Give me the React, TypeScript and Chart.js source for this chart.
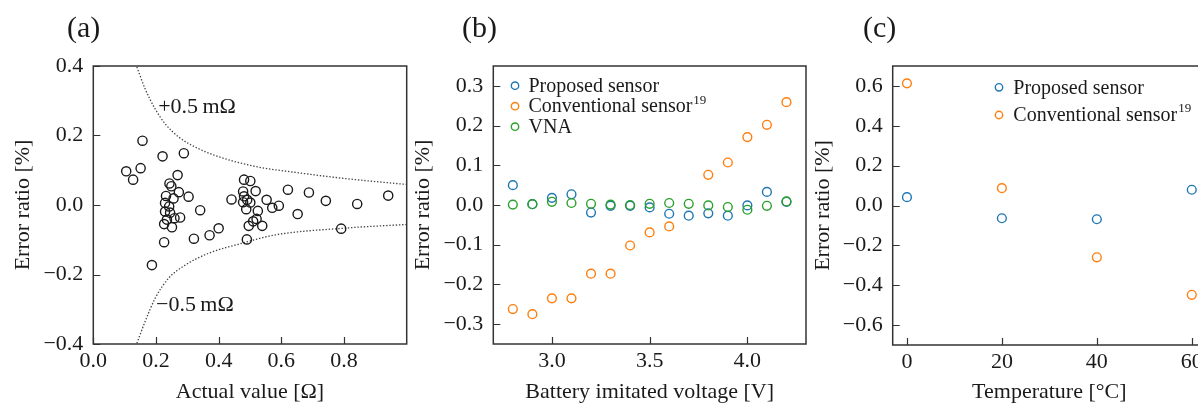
import React, { useEffect, useRef } from "react";
import { Chart, registerables } from "chart.js";
Chart.register(...registerables);

const FONT = '"Liberation Serif", "Times New Roman", serif';
const BLUE = "#1f77b4";
const ORANGE = "#ff7f0e";
const GREEN = "#2ca02c";
const INK = "#1a1a1a";
const FRAME = "#333333";

// ---------- (a) data ----------
const actualValues = [0.105, 0.127, 0.151, 0.157, 0.187, 0.221, 0.226, 0.289, 0.269, 0.304, 0.273, 0.243, 0.249, 0.232, 0.256, 0.229, 0.242, 0.229, 0.245, 0.235, 0.226, 0.251, 0.259, 0.277, 0.321, 0.341, 0.371, 0.4, 0.441, 0.481, 0.501, 0.478, 0.481, 0.478, 0.491, 0.501, 0.488, 0.518, 0.525, 0.521, 0.51, 0.496, 0.49, 0.539, 0.553, 0.571, 0.592, 0.621, 0.652, 0.688, 0.742, 0.791, 0.842, 0.941];
const errorRatioA = [0.097, 0.073, 0.106, 0.185, -0.173, 0.14, -0.107, 0.149, 0.086, 0.024, 0.037, 0.062, 0.054, 0.026, 0.019, 0.006, -0.004, -0.019, -0.022, -0.042, -0.055, -0.064, -0.038, -0.036, -0.097, -0.015, -0.087, -0.067, 0.016, 0.073, 0.069, 0.039, 0.025, 0.008, 0.015, 0.007, -0.012, 0.04, -0.017, -0.04, -0.047, -0.06, -0.099, -0.06, 0.015, -0.008, -0.002, 0.044, -0.026, 0.036, 0.012, -0.068, 0.003, 0.027];
const upperBoundX = [0.139, 0.165, 0.197, 0.229, 0.272, 0.336, 0.421, 0.528, 0.635, 0.795, 1.0];
const upperBoundY = [0.397, 0.335, 0.277, 0.234, 0.196, 0.162, 0.133, 0.109, 0.095, 0.077, 0.059];
const lowerBoundX = [0.139, 0.165, 0.197, 0.24, 0.293, 0.368, 0.475, 0.581, 0.795, 1.0];
const lowerBoundY = [-0.398, -0.336, -0.269, -0.211, -0.173, -0.139, -0.11, -0.086, -0.067, -0.056];
const ticksAX = [0, 0.2, 0.4, 0.6, 0.8];
const ticksAY = [-0.4, -0.2, 0, 0.2, 0.4];

// ---------- (b) data ----------
const voltages = [2.8, 2.9, 3.0, 3.1, 3.2, 3.3, 3.4, 3.5, 3.6, 3.7, 3.8, 3.9, 4.0, 4.1, 4.2];
const proposedB = [0.05, 0.002, 0.018, 0.027, -0.019, -0.002, -0.002, -0.006, -0.022, -0.027, -0.021, -0.027, -0.001, 0.033, 0.008];
const conventionalB = [-0.262, -0.275, -0.235, -0.235, -0.173, -0.173, -0.102, -0.069, -0.054, null, 0.076, 0.107, 0.171, 0.202, 0.259];
const vnaB = [0.001, 0.002, 0.008, 0.005, 0.003, 0.001, 0.0, 0.003, 0.005, 0.003, -0.001, -0.005, -0.012, -0.002, 0.009];
const ticksBX = [3.0, 3.5, 4.0];
const ticksBY = [-0.3, -0.2, -0.1, 0, 0.1, 0.2, 0.3];

// ---------- (c) data ----------
const temperatures = [0, 20, 40, 60];
const proposedC = [0.042, -0.064, -0.069, 0.079];
const conventionalC = [0.613, 0.087, -0.26, -0.448];
const ticksCX = [0, 20, 40, 60];
const ticksCY = [-0.6, -0.4, -0.2, 0, 0.2, 0.4, 0.6];

function pts(xs: number[], ys: (number | null)[]) {
  const out: { x: number; y: number }[] = [];
  xs.forEach((x, i) => {
    const y = ys[i];
    if (y !== null && y !== undefined) out.push({ x, y });
  });
  return out;
}

function fmt(v: number, d: number) {
  const s = Math.abs(v).toFixed(d);
  return v < -1e-9 ? "\u2212" + s : s;
}

type LegendItem = { color: string; label: string; sup?: string };
type PanelDeco = {
  letter: string;
  letterX: number;
  legend?: { markerX: number; textX: number; rows: number[]; items: LegendItem[] };
  notes?: { x: number; y: number; text: string }[];
};

function decoPlugin(deco: PanelDeco) {
  return {
    id: "deco",
    afterDraw(chart: any) {
      const { ctx, chartArea: a, scales } = chart;
      const sx = scales.x;
      const sy = scales.y;
      ctx.save();
      // inward ticks
      ctx.strokeStyle = FRAME;
      ctx.lineWidth = 1.2;
      ctx.beginPath();
      sx.ticks.forEach((t: any) => {
        const p = Math.round(sx.getPixelForValue(t.value)) + 0.5;
        ctx.moveTo(p, a.bottom);
        ctx.lineTo(p, a.bottom - 7);
      });
      sy.ticks.forEach((t: any) => {
        const p = Math.round(sy.getPixelForValue(t.value)) + 0.5;
        ctx.moveTo(a.left, p);
        ctx.lineTo(a.left + 7, p);
      });
      ctx.stroke();
      // frame
      ctx.lineWidth = 1.5;
      ctx.strokeRect(a.left, a.top, a.right - a.left, a.bottom - a.top);
      // panel letter
      ctx.fillStyle = INK;
      ctx.font = `30px ${FONT}`;
      ctx.textAlign = "left";
      ctx.textBaseline = "alphabetic";
      ctx.fillText(deco.letter, deco.letterX, 37);
      // notes
      if (deco.notes) {
        ctx.font = `22px ${FONT}`;
        deco.notes.forEach((n) => {
          ctx.fillText(n.text, sx.getPixelForValue(n.x), sy.getPixelForValue(n.y));
        });
      }
      // legend
      if (deco.legend) {
        const L = deco.legend;
        L.items.forEach((it, i) => {
          const y = L.rows[i];
          ctx.beginPath();
          ctx.strokeStyle = it.color;
          ctx.lineWidth = 1.4;
          ctx.arc(L.markerX, y, 3.7, 0, Math.PI * 2);
          ctx.stroke();
          ctx.fillStyle = INK;
          ctx.font = `20px ${FONT}`;
          ctx.textBaseline = "middle";
          ctx.fillText(it.label, L.textX, y + 1);
          if (it.sup) {
            const w = ctx.measureText(it.label).width;
            ctx.font = `13px ${FONT}`;
            ctx.fillText(it.sup, L.textX + w + 1, y - 6);
          }
        });
      }
      ctx.restore();
    },
  };
}

function axes(opts: {
  xMin: number; xMax: number; yMin: number; yMax: number;
  xTicks: number[]; yTicks: number[]; xDec: number; yDec: number;
  xTitle: string; yTitle: string; yWidth: number; xHeight: number;
}) {
  const tickFont = { family: FONT, size: 22, lineHeight: 1 };
  const titleFont = { family: FONT, size: 22, lineHeight: 1 };
  return {
    x: {
      type: "linear",
      min: opts.xMin,
      max: opts.xMax,
      grid: { display: false, drawTicks: false },
      border: { display: false },
      afterBuildTicks: (s: any) => {
        s.ticks = opts.xTicks.map((v) => ({ value: v }));
      },
      afterFit: (s: any) => {
        s.height = opts.xHeight;
      },
      ticks: {
        autoSkip: false,
        maxRotation: 0,
        padding: 6,
        color: INK,
        font: tickFont,
        callback: (v: any) => fmt(Number(v), opts.xDec),
      },
      title: {
        display: true,
        text: opts.xTitle,
        color: INK,
        font: titleFont,
        padding: { top: 0, bottom: 0 },
      },
    },
    y: {
      type: "linear",
      min: opts.yMin,
      max: opts.yMax,
      grid: { display: false, drawTicks: false },
      border: { display: false },
      afterBuildTicks: (s: any) => {
        s.ticks = opts.yTicks.map((v) => ({ value: v }));
      },
      afterFit: (s: any) => {
        s.width = opts.yWidth;
      },
      ticks: {
        autoSkip: false,
        padding: 10,
        color: INK,
        font: tickFont,
        callback: (v: any) => fmt(Number(v), opts.yDec),
      },
      title: {
        display: true,
        text: opts.yTitle,
        color: INK,
        font: titleFont,
        padding: { top: 12, bottom: 0 },
      },
    },
  };
}

const baseOptions = (scales: any, rightPad: number) => ({
  responsive: false,
  animation: false as const,
  devicePixelRatio: 1,
  layout: { padding: { left: 0, right: rightPad, top: 66, bottom: 0 } },
  plugins: { legend: { display: false }, tooltip: { enabled: false }, title: { display: false } },
  events: [],
  scales,
});

const hollow = (color: string, data: any[], order: number, r = 4.4) => ({
  type: "scatter" as const,
  data,
  showLine: false,
  pointRadius: r,
  pointBorderWidth: 1.4,
  pointBorderColor: color,
  pointBackgroundColor: "rgba(0,0,0,0)",
  borderColor: color,
  backgroundColor: "rgba(0,0,0,0)",
  order,
});

const boundLine = (data: any[]) => ({
  type: "scatter" as const,
  data,
  showLine: true,
  pointRadius: 0,
  borderColor: "#444",
  borderWidth: 1.3,
  borderDash: [1.4, 1.8],
  cubicInterpolationMode: "monotone" as const,
  order: 5,
});

function buildA() {
  return {
    type: "scatter",
    data: {
      datasets: [
        hollow(INK, pts(actualValues, errorRatioA), 1, 4.6),
        boundLine(pts(upperBoundX, upperBoundY)),
        boundLine(pts(lowerBoundX, lowerBoundY)),
      ],
    },
    options: baseOptions(
      axes({
        xMin: 0, xMax: 1.0, yMin: -0.4, yMax: 0.4,
        xTicks: ticksAX, yTicks: ticksAY, xDec: 1, yDec: 1,
        xTitle: "Actual value [\u03A9]", yTitle: "Error ratio [%]",
        yWidth: 93.3, xHeight: 59,
      }),
      13.3
    ),
    plugins: [
      decoPlugin({
        letter: "(a)",
        letterX: 67,
        notes: [
          { x: 0.207, y: 0.266, text: "+0.5\u2009m\u03A9" },
          { x: 0.2, y: -0.304, text: "\u22120.5\u2009m\u03A9" },
        ],
      }),
    ],
  };
}

function buildB() {
  return {
    type: "scatter",
    data: {
      datasets: [
        hollow(BLUE, pts(voltages, proposedB), 3),
        hollow(ORANGE, pts(voltages, conventionalB), 2),
        hollow(GREEN, pts(voltages, vnaB), 1),
      ],
    },
    options: baseOptions(
      axes({
        xMin: 2.7, xMax: 4.3, yMin: -0.35, yMax: 0.35,
        xTicks: ticksBX, yTicks: ticksBY, xDec: 1, yDec: 1,
        xTitle: "Battery imitated voltage [V]", yTitle: "Error ratio [%]",
        yWidth: 93.3, xHeight: 59,
      }),
      14
    ),
    plugins: [
      decoPlugin({
        letter: "(b)",
        letterX: 62,
        legend: {
          markerX: 115,
          textX: 128.5,
          rows: [85.7, 106.2, 126.7],
          items: [
            { color: BLUE, label: "Proposed sensor" },
            { color: ORANGE, label: "Conventional sensor", sup: "19" },
            { color: GREEN, label: "VNA" },
          ],
        },
      }),
    ],
  };
}

function buildC() {
  return {
    type: "scatter",
    data: {
      datasets: [
        hollow(BLUE, pts(temperatures, proposedC), 2),
        hollow(ORANGE, pts(temperatures, conventionalC), 1),
      ],
    },
    options: baseOptions(
      axes({
        xMin: -3, xMax: 63, yMin: -0.7, yMax: 0.7,
        xTicks: ticksCX, yTicks: ticksCY, xDec: 0, yDec: 1,
        xTitle: "Temperature [\u00B0C]", yTitle: "Error ratio [%]",
        yWidth: 92.7, xHeight: 58,
      }),
      14
    ),
    plugins: [
      decoPlugin({
        letter: "(c)",
        letterX: 63,
        legend: {
          markerX: 199,
          textX: 213.3,
          rows: [87.3, 115],
          items: [
            { color: BLUE, label: "Proposed sensor" },
            { color: ORANGE, label: "Conventional sensor", sup: "19" },
          ],
        },
      }),
    ],
  };
}

function Panel({ left, build }: { left: number; build: () => any }) {
  const ref = useRef<HTMLCanvasElement>(null);
  useEffect(() => {
    const chart = new Chart(ref.current as HTMLCanvasElement, build());
    return () => chart.destroy();
  }, []);
  return (
    <canvas
      ref={ref}
      width={420}
      height={403}
      style={{ position: "absolute", left, top: 0, width: 420, height: 403 }}
    />
  );
}

export default function App() {
  return (
    <div
      style={{
        position: "fixed",
        left: 0,
        top: 0,
        width: 1198,
        height: 403,
        overflow: "hidden",
        background: "#ffffff",
      }}
    >
      <Panel left={0} build={buildA} />
      <Panel left={400} build={buildB} />
      <Panel left={800} build={buildC} />
    </div>
  );
}
